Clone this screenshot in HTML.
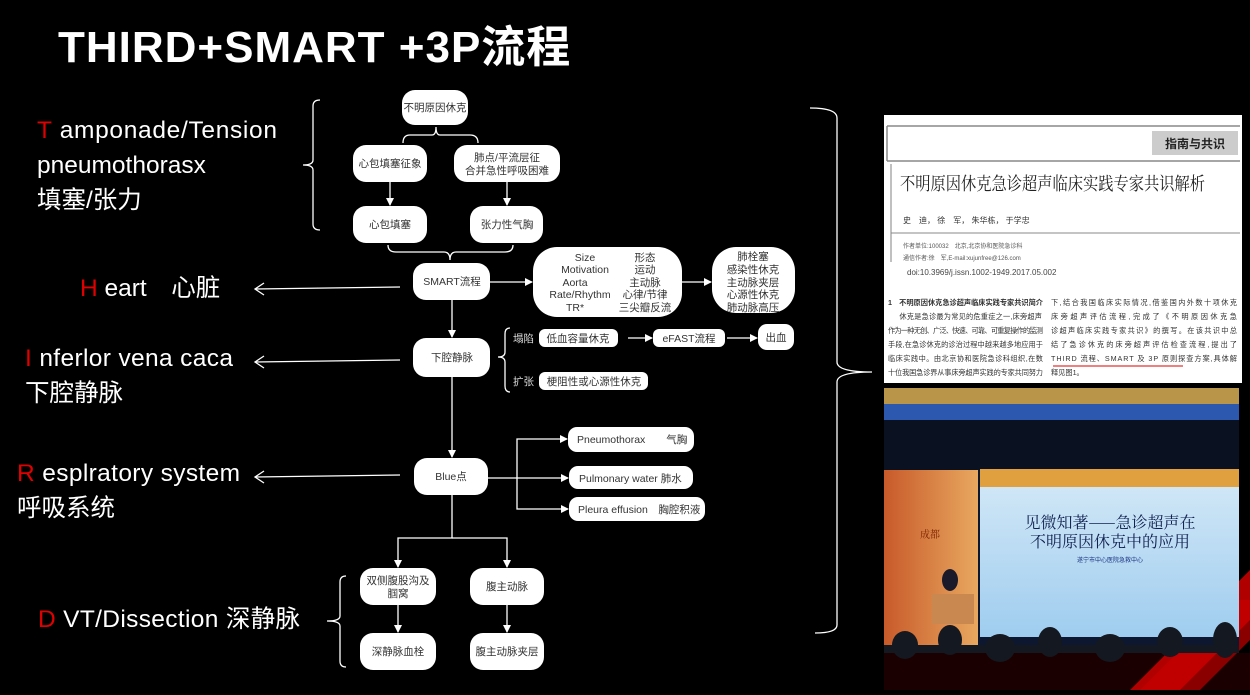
<!DOCTYPE html>
<html><head><meta charset="utf-8"><style>
html,body{margin:0;padding:0;background:#000;}
body{width:1250px;height:690px;overflow:hidden;position:relative;font-family:"Liberation Sans","Noto Sans CJK SC",sans-serif;}
svg text{font-family:"Liberation Sans","Noto Sans CJK SC",sans-serif;}
</style></head><body>
<svg width="1250" height="690" viewBox="0 0 1250 690" xmlns="http://www.w3.org/2000/svg">
<defs>
<marker id="a" markerWidth="8" markerHeight="8" refX="7" refY="4" orient="auto" markerUnits="userSpaceOnUse"><path d="M0,0 L8,4 L0,8 z" fill="#fff"/></marker>
<linearGradient id="scr" x1="0" y1="0" x2="0" y2="1"><stop offset="0" stop-color="#cfe6f6"/><stop offset="1" stop-color="#9fcdef"/></linearGradient>
<linearGradient id="ban" x1="0" y1="0" x2="1" y2="0"><stop offset="0" stop-color="#c85a2a"/><stop offset="1" stop-color="#e8a860"/></linearGradient>
</defs>

<rect x="884" y="653" width="366" height="37" fill="#1a0000"/>
<polygon points="1130,690 1250,570 1250,600 1160,690" fill="#b00000"/>
<polygon points="1170,690 1250,610 1250,640 1200,690" fill="#8a0000"/>
<polygon points="1140,690 1230,600 1250,600 1250,620 1180,690" fill="#c00000"/>

<text x="58" y="62" font-size="44" font-weight="bold" fill="#fff" letter-spacing="1">THIRD+SMART +3P流程</text>

<g font-size="24.5" fill="#fff">
<text x="37" y="138" textLength="240"><tspan fill="#e00000">T</tspan> amponade/Tension</text>
<text x="37" y="173">pneumothorasx</text>
<text x="37" y="208">填塞/张力</text>
<text x="80" y="296"><tspan fill="#e00000">H</tspan> eart　心脏</text>
<text x="25" y="366" textLength="208"><tspan fill="#e00000">I</tspan> nferlor vena caca</text>
<text x="25" y="401">下腔静脉</text>
<text x="17" y="481" textLength="223"><tspan fill="#e00000">R</tspan> esplratory system</text>
<text x="17" y="516">呼吸系统</text>
<text x="38" y="627" textLength="262"><tspan fill="#e00000">D</tspan> VT/Dissection 深静脉</text>
</g>

<g stroke="#fff" stroke-width="1.3" fill="none">
<path d="M400,287 L255,289 M264,283 L255,289 L264,295"/>
<path d="M400,360 L255,362 M264,356 L255,362 L264,368"/>
<path d="M400,475 L255,477 M264,471 L255,477 L264,483"/>
<path d="M320,100 Q313,100 313,106 L313,160 Q313,165 303,165 Q313,165 313,170 L313,224 Q313,230 320,230"/>
<path d="M346,576 Q340,576 340,582 L340,616 Q340,621 327,621 Q340,621 340,626 L340,661 Q340,667 346,667"/>
<path d="M510,328 Q505,328 505,334 L505,352 Q505,357 498,357 Q505,357 505,362 L505,386 Q505,392 510,392"/>
<path d="M810,108 Q837,108 837,118 L837,362 Q837,372 872,372 Q837,372 837,382 L837,625 Q837,633 815,633"/>
<path d="M403,143 Q403,135 410,135 L432,135 Q436,135 436,127 Q436,135 440,135 L470,135 Q478,135 478,143"/>
<path d="M388,245 Q388,252 396,252 L444,252 Q450,252 450,260 Q450,252 456,252 L505,252 Q513,252 513,245"/>
</g>

<g stroke="#fff" stroke-width="1.3" fill="none" marker-end="url(#a)">
<line x1="390" y1="182" x2="390" y2="205"/>
<line x1="507" y1="182" x2="507" y2="205"/>
<line x1="490" y1="282" x2="532" y2="282"/>
<line x1="682" y1="282" x2="711" y2="282"/>
<line x1="452" y1="300" x2="452" y2="337"/>
<line x1="628" y1="338" x2="652" y2="338"/>
<line x1="727" y1="338" x2="757" y2="338"/>
<line x1="452" y1="377" x2="452" y2="457"/>
<polyline points="488,478 517,478 517,439 567,439"/>
<line x1="517" y1="478" x2="568" y2="478"/>
<polyline points="517,478 517,509 568,509"/>
<polyline points="452,495 452,538 398,538 398,567"/>
<polyline points="452,538 507,538 507,567"/>
<line x1="398" y1="605" x2="398" y2="632"/>
<line x1="507" y1="605" x2="507" y2="632"/>
</g>

<g fill="#fff">
<rect x="402" y="90" width="66" height="35" rx="13"/>
<rect x="353" y="145" width="74" height="37" rx="13"/>
<rect x="454" y="145" width="106" height="37" rx="13"/>
<rect x="353" y="206" width="74" height="37" rx="13"/>
<rect x="470" y="206" width="73" height="37" rx="13"/>
<rect x="413" y="263" width="77" height="37" rx="13"/>
<rect x="533" y="247" width="149" height="70" rx="24"/>
<rect x="712" y="247" width="83" height="66" rx="24"/>
<rect x="413" y="338" width="77" height="39" rx="13"/>
<rect x="539" y="329" width="79" height="18" rx="6"/>
<rect x="653" y="329" width="72" height="18" rx="6"/>
<rect x="758" y="324" width="36" height="26" rx="9"/>
<rect x="539" y="372" width="109" height="18" rx="6"/>
<rect x="414" y="458" width="74" height="37" rx="13"/>
<rect x="568" y="427" width="126" height="25" rx="9"/>
<rect x="569" y="466" width="124" height="23" rx="9"/>
<rect x="569" y="497" width="136" height="24" rx="9"/>
<rect x="360" y="568" width="76" height="37" rx="13"/>
<rect x="470" y="568" width="74" height="37" rx="13"/>
<rect x="360" y="633" width="76" height="37" rx="13"/>
<rect x="470" y="633" width="74" height="37" rx="13"/>
</g>
<g font-size="10.5" fill="#333" text-anchor="middle">
<text x="435" y="111">不明原因休克</text>
<text x="390" y="167">心包填塞征象</text>
<text x="507" y="161">肺点/平流层征</text>
<text x="507" y="174">合并急性呼吸困难</text>
<text x="390" y="228">心包填塞</text>
<text x="507" y="228">张力性气胸</text>
<text x="452" y="285">SMART流程</text>
<text x="452" y="361">下腔静脉</text>
<text x="578" y="342">低血容量休克</text>
<text x="689" y="342">eFAST流程</text>
<text x="776" y="341">出血</text>
<text x="594" y="385">梗阻性或心源性休克</text>
<text x="451" y="480">Blue点</text>
<text x="398" y="584">双侧腹股沟及</text>
<text x="398" y="597">腘窝</text>
<text x="507" y="590">腹主动脉</text>
<text x="398" y="655">深静脉血栓</text>
<text x="507" y="655">腹主动脉夹层</text>
<text x="753" y="260">肺栓塞</text>
<text x="753" y="273">感染性休克</text>
<text x="753" y="286">主动脉夹层</text>
<text x="753" y="298">心源性休克</text>
<text x="753" y="311">肺动脉高压</text>
<text x="585" y="261">Size</text>
<text x="585" y="273">Motivation</text>
<text x="575" y="286">Aorta</text>
<text x="580" y="298">Rate/Rhythm</text>
<text x="575" y="311">TR*</text>
<text x="645" y="261">形态</text>
<text x="645" y="273">运动</text>
<text x="645" y="286">主动脉</text>
<text x="645" y="298">心律/节律</text>
<text x="645" y="311">三尖瓣反流</text>
</g>
<g font-size="10.5" fill="#333">
<text x="577" y="443">Pneumothorax　　气胸</text>
<text x="579" y="482">Pulmonary water 肺水</text>
<text x="578" y="513">Pleura effusion　胸腔积液</text>
</g>
<g font-size="10.5" fill="#ddd">
<text x="513" y="342">塌陷</text>
<text x="513" y="385">扩张</text>
</g>

<rect x="884" y="115" width="358" height="268" fill="#fff"/>
<line x1="887" y1="126" x2="1240" y2="126" stroke="#888" stroke-width="1.5"/>
<line x1="887" y1="161" x2="1240" y2="161" stroke="#888" stroke-width="1.5"/>
<line x1="887" y1="126" x2="887" y2="161" stroke="#888" stroke-width="1.5"/>
<line x1="891" y1="164" x2="891" y2="262" stroke="#aaa" stroke-width="1.5"/>
<rect x="1152" y="131" width="86" height="24" fill="#ccc"/>
<text x="1195" y="148" font-size="12" font-weight="bold" fill="#222" text-anchor="middle">指南与共识</text>
<text x="900" y="190" font-size="18" fill="#222" textLength="305" lengthAdjust="spacingAndGlyphs" style="font-family:'Noto Serif CJK SC',serif">不明原因休克急诊超声临床实践专家共识解析</text>
<text x="903" y="223" font-size="8" fill="#333">史　迪，  徐　军，  朱华栋，  于学忠</text>
<line x1="891" y1="233" x2="1240" y2="233" stroke="#888"/>
<text x="903" y="248" font-size="6" fill="#555">作者单位:100032　北京,北京协和医院急诊科</text>
<text x="903" y="260" font-size="6" fill="#555">通信作者:徐　军,E-mail:xujunfree@126.com</text>
<text x="907" y="275" font-size="8" fill="#444">doi:10.3969/j.issn.1002-1949.2017.05.002</text>
<g font-size="7.2" fill="#333">
<text x="888" y="305" font-weight="bold" textLength="155">1　不明原因休克急诊超声临床实践专家共识简介</text>
<text x="892" y="319" textLength="150">　休克是急诊最为常见的危重症之一,床旁超声</text>
<text x="888" y="333" textLength="155">作为一种无创、广泛、快速、可靠、可重复操作的监测</text>
<text x="888" y="347" textLength="155">手段,在急诊休克的诊治过程中越来越多地应用于</text>
<text x="888" y="361" textLength="155">临床实践中。由北京协和医院急诊科组织,在数</text>
<text x="888" y="375" textLength="155">十位我国急诊界从事床旁超声实践的专家共同努力</text>
<text x="1051" y="305" textLength="186">下,结合我国临床实际情况,借鉴国内外数十项休克</text>
<text x="1051" y="319" textLength="186">床旁超声评估流程,完成了《不明原因休克急</text>
<text x="1051" y="333" textLength="186">诊超声临床实践专家共识》的撰写。在该共识中总</text>
<text x="1051" y="347" textLength="186">结了急诊休克的床旁超声评估检查流程,提出了</text>
<text x="1051" y="361" textLength="186">THIRD 流程、SMART 及 3P 原则探查方案,具体解</text>
<text x="1051" y="375">释见图1。</text>
</g>
<line x1="1053" y1="366" x2="1183" y2="366" stroke="#d00" stroke-width="1"/>

<rect x="884" y="388" width="355" height="265" fill="#0d1830"/>
<rect x="884" y="388" width="355" height="20" fill="#b89548"/>
<rect x="884" y="404" width="355" height="16" fill="#2c58b0"/>
<rect x="884" y="420" width="355" height="50" fill="#0a1222"/>
<rect x="884" y="470" width="94" height="175" fill="url(#ban)"/>
<rect x="980" y="469" width="259" height="18" fill="#e0a040"/>
<rect x="980" y="487" width="259" height="150" fill="url(#scr)"/>
<text x="1110" y="528" font-size="16" fill="#102050" text-anchor="middle" style="font-family:'Noto Serif CJK SC',serif">见微知著——急诊超声在</text>
<text x="1110" y="547" font-size="16" fill="#102050" text-anchor="middle" style="font-family:'Noto Serif CJK SC',serif">不明原因休克中的应用</text>
<text x="1110" y="562" font-size="6" fill="#1a3080" text-anchor="middle">遂宁市中心医院急救中心</text>
<text x="920" y="538" font-size="10" fill="#7a2000" style="font-family:'Noto Serif CJK SC',serif">成都</text>
<rect x="932" y="594" width="42" height="30" fill="#c88850"/>
<ellipse cx="950" cy="580" rx="8" ry="11" fill="#1a1a2a"/>
<g fill="#141820">
<ellipse cx="905" cy="645" rx="13" ry="14"/>
<ellipse cx="950" cy="640" rx="12" ry="15"/>
<ellipse cx="1000" cy="648" rx="15" ry="14"/>
<ellipse cx="1050" cy="642" rx="12" ry="15"/>
<ellipse cx="1110" cy="648" rx="15" ry="14"/>
<ellipse cx="1170" cy="642" rx="13" ry="15"/>
<ellipse cx="1225" cy="640" rx="12" ry="18"/>
<rect x="884" y="645" width="355" height="8"/>
</g>
</svg>
</body></html>
